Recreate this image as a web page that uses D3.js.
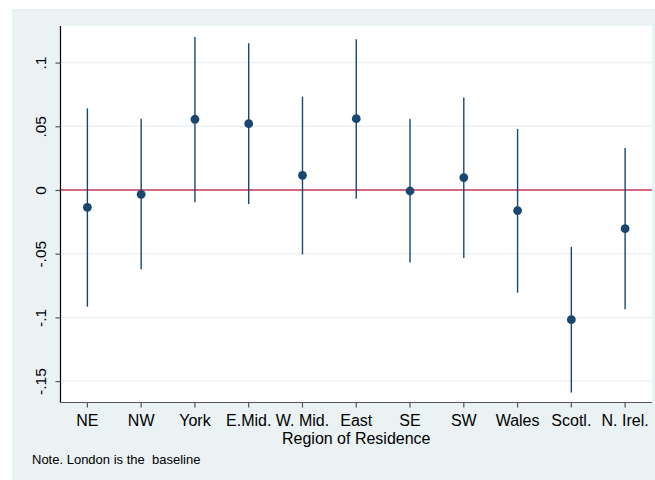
<!DOCTYPE html>
<html><head><meta charset="utf-8">
<script src="https://cdn.jsdelivr.net/npm/d3@7"></script>
<style>body{margin:0;background:#fff}svg{display:block}text{font-family:"Liberation Sans",Arial,sans-serif}</style>
</head><body>
<svg id="c" width="655" height="480"></svg>
<script>
const regions = ["NE","NW","York","E.Mid.","W. Mid.","East","SE","SW","Wales","Scotl.","N. Irel."];
const estimates = [-0.0136,-0.0034,0.0555,0.052,0.0115,0.056,-0.0008,0.0097,-0.0162,-0.1018,-0.0304];
const ciLower = [-0.0916,-0.0623,-0.0097,-0.011,-0.0505,-0.0068,-0.057,-0.0534,-0.0806,-0.159,-0.0937];
const ciUpper = [0.0641,0.056,0.120,0.1151,0.0733,0.1183,0.0557,0.0725,0.0479,-0.0447,0.033];
const yTicks = [0.1,0.05,0,-0.05,-0.1,-0.15];
const yTickLabels = [".1",".05","0","-.05","-.1","-.15"];
const xTitle = "Region of Residence";
const note = "Note. London is the  baseline";

const svg = d3.select("#c");
const L=60.5, R=652, T=26, B=402.5;
svg.append("rect").attr("x",12).attr("y",9).attr("width",643).attr("height",471).attr("fill","#eaf2f3");
svg.append("rect").attr("x",L).attr("y",T).attr("width",R-L).attr("height",B-T).attr("fill","#fff");

const x = d3.scaleBand().domain(regions).range([L,R]);
const y = d3.scaleLinear().domain([-0.1668,0.1287]).range([B,T]);

// grid
svg.append("g").selectAll("line").data(yTicks.filter(v=>v!==0)).join("line")
  .attr("x1",L).attr("x2",R).attr("y1",d=>y(d)).attr("y2",d=>y(d))
  .attr("stroke","#eaf2f3").attr("stroke-width",1.5);

// zero line
svg.append("line").attr("x1",L).attr("x2",R).attr("y1",y(0)).attr("y2",y(0))
  .attr("stroke","#c9365a").attr("stroke-width",1.6);

const cx = d=>x(d)+x.bandwidth()/2;
// CIs
svg.append("g").selectAll("line").data(regions).join("line")
  .attr("x1",cx).attr("x2",cx)
  .attr("y1",(d,i)=>y(ciLower[i])).attr("y2",(d,i)=>y(ciUpper[i]))
  .attr("stroke","#1a476f").attr("stroke-width",1.4);
// points
svg.append("g").selectAll("circle").data(regions).join("circle")
  .attr("cx",cx).attr("cy",(d,i)=>y(estimates[i])).attr("r",4.4)
  .attr("fill","#1a476f");

// y axis
const yAxis = d3.axisLeft(y).tickValues(yTicks).tickSize(5).tickPadding(6)
  .tickFormat((d,i)=>yTickLabels[i]);
const gy = svg.append("g").attr("transform",`translate(${L},0)`).call(yAxis);
gy.select(".domain").attr("d",`M0,${T}V${B}`).attr("stroke","#000").attr("stroke-width",1.2);
gy.selectAll(".tick line").attr("stroke","#555").attr("stroke-width",1.2);
gy.selectAll(".tick text").attr("font-size",15.5).attr("fill","#000")
  .attr("transform","rotate(-90)").attr("text-anchor","middle").attr("x",0).attr("dy",0)
  .attr("y",-14.5);

// x axis
const xAxis = d3.axisBottom(x).tickSize(5).tickPadding(5);
const gx = svg.append("g").attr("transform",`translate(0,${B})`).call(xAxis);
gx.select(".domain").attr("d",`M${L},0H${R}`).attr("stroke","#555").attr("stroke-width",1.2);
gx.selectAll(".tick line").attr("stroke","#555").attr("stroke-width",1.2);
gx.selectAll(".tick text").attr("font-size",16).attr("fill","#000").attr("dy",0).attr("y",23);

svg.append("text").attr("x",(L+R)/2).attr("y",444).attr("text-anchor","middle")
  .attr("font-size",16).attr("fill","#000").text(xTitle);
svg.append("text").attr("x",32).attr("y",464.3).attr("font-size",13).attr("fill","#000")
  .style("white-space","pre").text(note);
</script>
</body></html>
